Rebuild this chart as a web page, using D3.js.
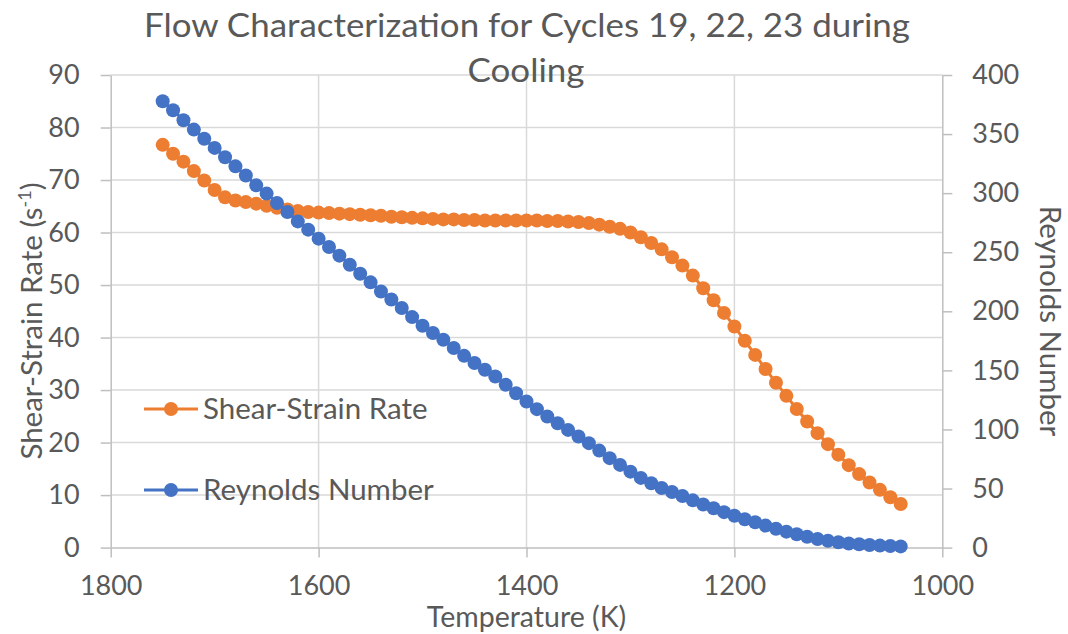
<!DOCTYPE html>
<html>
<head>
<meta charset="utf-8">
<script src="https://cdn.jsdelivr.net/npm/d3@7"></script>
<style>
  html, body { margin: 0; padding: 0; background: #fff; }
  svg { display: block; }
  text { font-family: Lato, "Noto Sans", "DejaVu Sans", sans-serif; fill: #595959; }
</style>
</head>
<body>
<svg id="chart" width="1068" height="634"></svg>
<script>
// ---------- data ----------
const temperatures = [1750,1740,1730,1720,1710,1700,1690,1680,1670,1660,1650,1640,1630,1620,1610,1600,
  1590,1580,1570,1560,1550,1540,1530,1520,1510,1500,1490,1480,1470,1460,1450,1440,1430,1420,1410,1400,
  1390,1380,1370,1360,1350,1340,1330,1320,1310,1300,1290,1280,1270,1260,1250,1240,1230,1220,1210,1200,
  1190,1180,1170,1160,1150,1140,1130,1120,1110,1100,1090,1080,1070,1060,1050,1040];

const shearStrainRate = [76.7,75.0,73.5,71.7,69.9,68.1,66.7,66.1,65.8,65.5,65.1,64.7,64.4,64.1,63.9,63.8,
  63.7,63.6,63.5,63.4,63.3,63.2,63.0,62.9,62.8,62.7,62.6,62.5,62.5,62.4,62.4,62.3,62.3,62.3,62.3,62.3,
  62.3,62.2,62.2,62.1,62.0,61.8,61.5,61.1,60.7,60.0,59.1,58.0,56.8,55.3,53.7,51.8,49.4,47.1,44.7,42.1,
  39.4,36.7,34.0,31.4,28.9,26.4,24.0,21.8,19.7,17.7,15.7,14.0,12.4,11.0,9.6,8.3];

const reynoldsNumber = [377.8,370.2,361.7,353.8,346.0,338.3,330.4,322.7,314.9,306.6,299.6,291.7,284.1,276.1,269.1,261.5,
  254.4,247.1,239.4,231.8,224.5,216.8,210.0,202.8,195.1,187.8,181.6,175.9,168.9,162.3,156.2,150.5,144.8,137.8,130.7,123.6,
  117.2,110.9,105.3,99.6,94.0,88.4,82.1,75.7,70.0,64.3,59.0,54.5,50.5,47.0,43.7,40.0,36.5,33.3,30.0,27.0,
  24.0,21.4,18.6,16.0,13.5,11.3,9.2,7.3,5.8,4.5,3.5,2.8,2.2,1.7,1.3,1.0];

const xTicks = [1800, 1600, 1400, 1200, 1000];
const yLeftTicks = [0,10,20,30,40,50,60,70,80,90];
const yRightTicks = [0,50,100,150,200,250,300,350,400];

const titleLines = ["Flow Characterization for Cycles 19, 22, 23 during", "Cooling"];
const seriesNames = ["Shear-Strain Rate", "Reynolds Number"];
const colors = ["#ED7D31", "#4472C4"];

// ---------- layout ----------
const svg = d3.select("#chart");
const pL = 110.7, pR = 942.3, pT = 75, pB = 547.6;

const x = d3.scaleLinear().domain([1800, 1000]).range([pL, pR]);
const yL = d3.scaleLinear().domain([0, 90]).range([pB, pT]);
const yR = d3.scaleLinear().domain([0, 400]).range([pB, pT]);

const gridColor = "#d9d9d9";
const axisColor = "#bfbfbf";

// gridlines
const grid = svg.append("g");
grid.selectAll("line.h").data(yLeftTicks.filter(d => d !== 0)).join("line")
  .attr("x1", pL).attr("x2", pR)
  .attr("y1", d => yL(d)).attr("y2", d => yL(d))
  .attr("stroke", gridColor).attr("stroke-width", 1.5);
grid.selectAll("line.v").data(xTicks.filter(d => d !== 1800 && d !== 1000)).join("line")
  .attr("x1", d => x(d)).attr("x2", d => x(d))
  .attr("y1", pT).attr("y2", pB)
  .attr("stroke", gridColor).attr("stroke-width", 1.5);

function styleAxis(g) {
  g.select(".domain").attr("stroke", axisColor).attr("stroke-width", 1.5);
  g.selectAll(".tick line").attr("stroke", axisColor).attr("stroke-width", 1.5);
  g.selectAll(".tick text").attr("fill", "#595959").style("font-size", "27px")
    .style("font-family", "Lato, 'Noto Sans', sans-serif");
}

// axes
svg.append("g").attr("transform", `translate(0,${pB})`)
  .call(d3.axisBottom(x).tickValues(xTicks).tickSize(10).tickSizeOuter(0).tickPadding(18).tickFormat(d3.format("d")))
  .call(styleAxis);
svg.append("g").attr("transform", `translate(${pL},0)`)
  .call(d3.axisLeft(yL).tickValues(yLeftTicks).tickSize(10).tickSizeOuter(0).tickPadding(21).tickFormat(d3.format("d")))
  .call(styleAxis);
svg.append("g").attr("transform", `translate(${pR},0)`)
  .call(d3.axisRight(yR).tickValues(yRightTicks).tickSize(10).tickSizeOuter(0).tickPadding(20).tickFormat(d3.format("d")))
  .call(styleAxis);

// series
const seriesData = [
  { name: seriesNames[0], color: colors[0], y: yL, values: shearStrainRate },
  { name: seriesNames[1], color: colors[1], y: yR, values: reynoldsNumber }
];

seriesData.forEach(s => {
  const pts = temperatures.map((t, i) => [t, s.values[i]]);
  const line = d3.line().x(d => x(d[0])).y(d => s.y(d[1]));
  const g = svg.append("g");
  g.append("path").datum(pts).attr("d", line)
    .attr("fill", "none").attr("stroke", s.color).attr("stroke-width", 3);
  g.selectAll("circle").data(pts).join("circle")
    .attr("cx", d => x(d[0])).attr("cy", d => s.y(d[1])).attr("r", 7)
    .attr("fill", s.color);
});

// legend
const legendY = [409, 490];
seriesData.forEach((s, i) => {
  const g = svg.append("g");
  g.append("line").attr("x1", 144).attr("x2", 198).attr("y1", legendY[i]).attr("y2", legendY[i])
    .attr("stroke", s.color).attr("stroke-width", 3);
  g.append("circle").attr("cx", 171).attr("cy", legendY[i]).attr("r", 7).attr("fill", s.color);
  g.append("text").attr("x", 203).attr("y", legendY[i] + 9.5)
    .style("font-size", "29.5px").text(s.name);
});

// title
svg.append("text").attr("x", 527).attr("y", 37).attr("text-anchor", "middle")
  .style("font-size", "32px").style("font-weight", 400)
  .attr("textLength", 766).attr("lengthAdjust", "spacingAndGlyphs")
  .text(titleLines[0]);
svg.append("text").attr("x", 526).attr("y", 82).attr("text-anchor", "middle")
  .style("font-size", "32px").style("font-weight", 400)
  .attr("textLength", 117).attr("lengthAdjust", "spacingAndGlyphs")
  .text(titleLines[1]);

// axis titles
svg.append("text").attr("x", (pL + pR) / 2).attr("y", 626.5).attr("text-anchor", "middle")
  .style("font-size", "28.5px").text("Temperature (K)");

const yt = svg.append("text").attr("transform", `translate(42,321) rotate(-90)`).attr("text-anchor", "middle")
  .style("font-size", "29.5px");
yt.append("tspan").text("Shear-Strain Rate (s");
yt.append("tspan").attr("dy", -11).style("font-size", "18px").text("-1");
yt.append("tspan").attr("dy", 11).text(")");

svg.append("text").attr("transform", `translate(1040,321) rotate(90)`).attr("text-anchor", "middle")
  .style("font-size", "29.5px").text("Reynolds Number");
</script>
</body>
</html>
